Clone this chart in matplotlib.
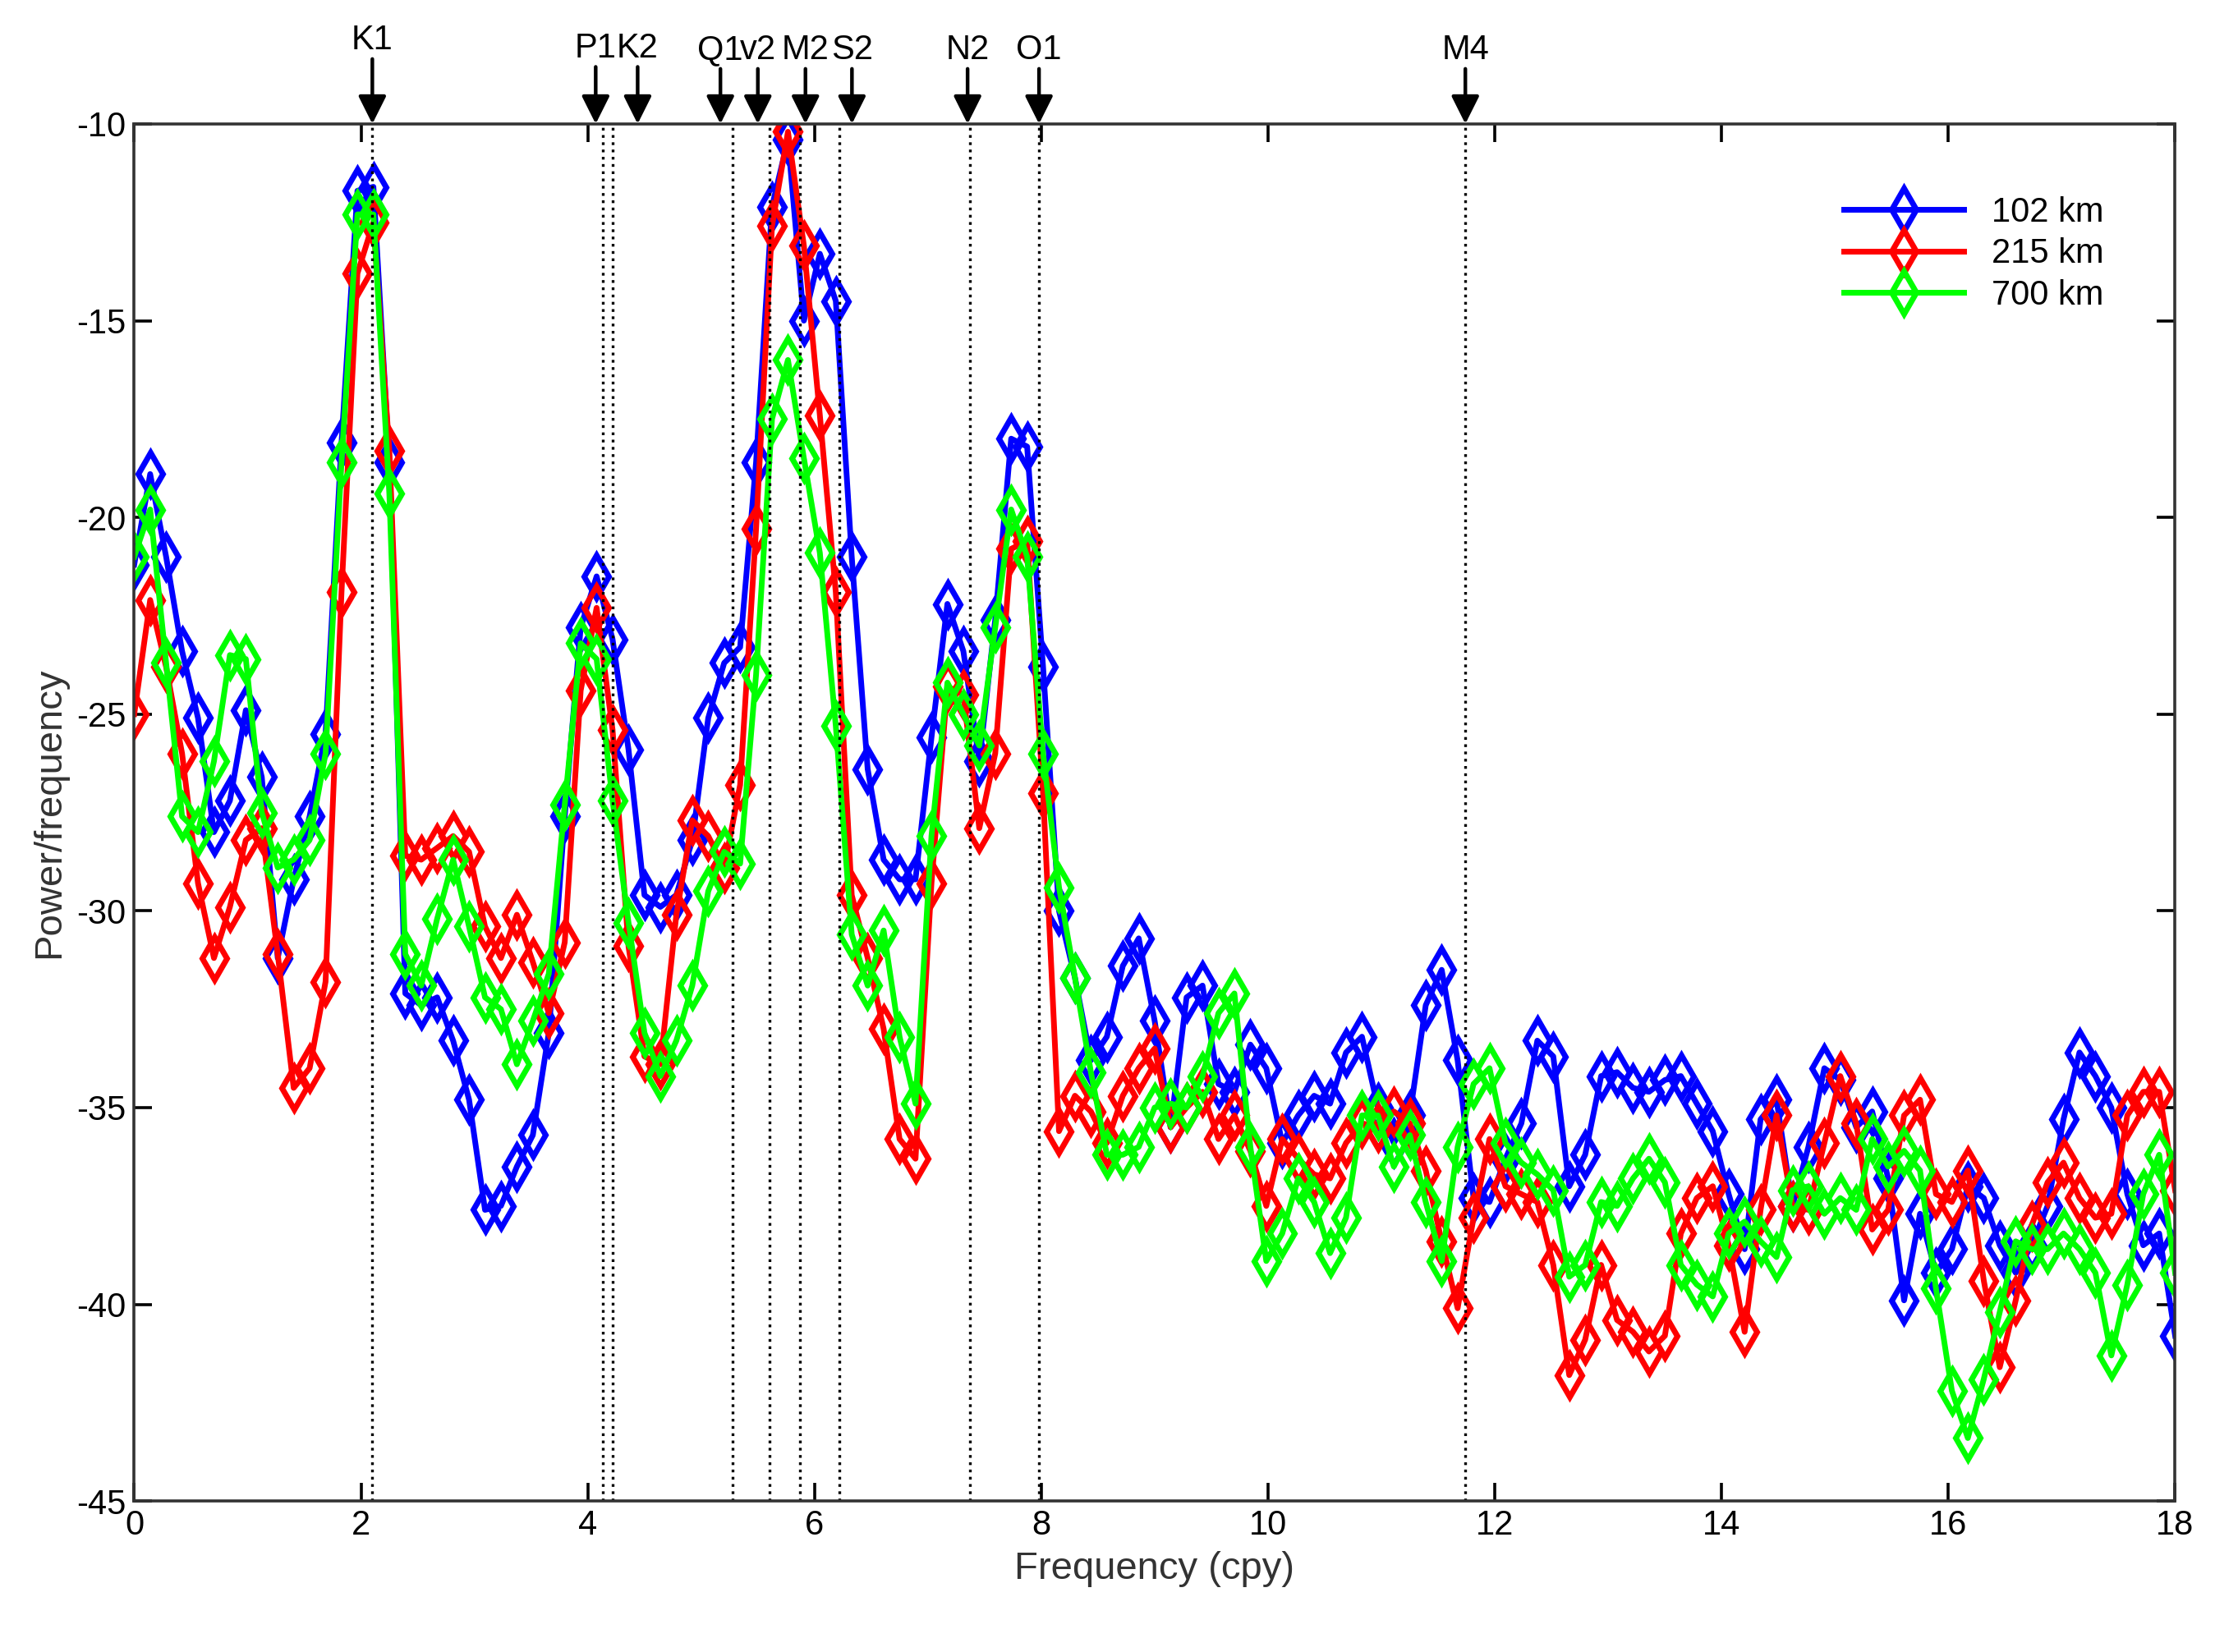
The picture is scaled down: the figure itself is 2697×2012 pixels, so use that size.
import numpy as np
import matplotlib.pyplot as plt

plt.rcParams['font.family'] = ['Liberation Sans', 'DejaVu Sans']
plt.rcParams['axes.unicode_minus'] = False

# power spectra (dB) at three distances, sampled every 18/128 cpy
p102 = [-21.2, -18.9, -21, -23.4, -25.1, -28, -27.2, -24.9, -26.6, -31.2,
        -29.2, -27.6, -25.5, -18.1, -11.7, -11.6, -18.6, -32.1, -32.4, -32.2,
        -33.3, -34.8, -37.6, -37.5, -36.5, -35.7, -33.1, -27.6, -22.8, -21.5,
        -23.1, -25.9, -29.6, -29.9, -29.6, -28.2, -25.1, -23.7, -23.3, -18.6,
        -12.1, -10.4, -15, -13.3, -14.5, -21, -26.4, -28.7, -29.2, -29.2,
        -25.6, -22.2, -23.4, -26.2, -22.6, -18, -18.2, -23.8, -30, -31.7,
        -33.8, -33.2, -31.4, -30.7, -32.8, -35.5, -32.2, -31.9, -34.4, -34.6,
        -33.4, -34, -35.9, -35.2, -34.7, -34.9, -33.6, -33.2, -35, -35.9,
        -35.2, -32.4, -31.5, -33.8, -37.3, -37.4, -36.3, -35.4, -33.3, -33.7,
        -37, -36.2, -34.2, -34.1, -34.5, -34.6, -34.3, -34.2, -34.9, -35.6,
        -37.2, -38.6, -35.3, -34.8, -37.5, -36, -34, -34.3, -35.5, -35.1,
        -36.8, -39.9, -37.7, -39.2, -38.6, -37, -37.3, -38.5, -39.2, -38.5,
        -37.5, -35.3, -33.6, -34.2, -35, -37.2, -38.5, -38.2, -40.8]
p215 = [-25, -22.1, -23.8, -26, -29.3, -31.2, -29.9, -28.2, -27.9, -31.1,
        -34.5, -34, -31.8, -21.9, -13.8, -12.5, -18.3, -28.6, -28.7, -28.4,
        -28.1, -28.5, -30.4, -31.2, -30.1, -31.3, -32.6, -30.8, -24.4, -22.3,
        -25.4, -30.9, -33.7, -33.9, -30.1, -27.7, -28.1, -28.9, -26.8, -20.3,
        -12.6, -10.2, -13.1, -17.4, -21.9, -29.6, -31.2, -33, -35.8, -36.3,
        -29.3, -24.3, -24.5, -27.9, -26, -20.8, -20.6, -27, -35.6, -34.7,
        -35.1, -35.9, -34.7, -34, -33.5, -35.5, -35, -34.6, -35.8, -35.2,
        -36.1, -37.5, -35.8, -36.3, -36.7, -36.8, -35.9, -35.4, -35.5, -35.1,
        -35.4, -36.6, -38.4, -40.1, -37.8, -35.8, -37, -37.2, -37.4, -39,
        -41.8, -40.9, -39, -40.4, -40.7, -41.2, -40.8, -38.2, -37.3, -37,
        -38.5, -40.7, -37.6, -35.2, -37.5, -37.6, -35.9, -34.2, -35.4, -38.1,
        -37.6, -35.2, -34.8, -37.2, -37.4, -36.6, -39.4, -41.6, -39.9, -38,
        -36.9, -36.4, -37.3, -37.8, -37.7, -35.2, -34.6, -34.6, -37.1]
p700 = [-21, -19.8, -23.7, -27.6, -28, -26.2, -23.5, -23.6, -27.5,
        -28.9, -28.7, -28.2, -26, -18.6, -12.3, -12.3, -19.4, -31.1, -31.9,
        -30.2, -28.7, -30.4, -32.2, -32.5, -33.9, -32.8, -31.6, -27.3, -23.2,
        -23.6, -27.2, -30.3, -33.1, -34.2, -33.3, -31.9, -29.5, -28.5, -28.8,
        -24, -17.5, -16, -18.5, -20.9, -25.3, -30.6, -31.9, -30.5, -33.2,
        -34.9, -28.1, -24.2, -25, -25.8, -22.8, -19.8, -21, -26, -29.4,
        -31.7, -34.1, -36.2, -36.2, -36, -35, -34.9, -35, -34.2, -32.6,
        -32.1, -36, -38.9, -38.2, -36.8, -37.4, -38.7, -37.8, -35.2, -35.2,
        -36.5, -35.7, -37.4, -38.9, -36, -34.4, -34, -35.9, -36.4, -36.7,
        -37.1, -39.3, -39, -37.4, -37.5, -36.8, -36.3, -36.9, -39, -39.5,
        -39.8, -38.2, -37.9, -38.4, -38.8, -37.1, -37, -37.7, -37.3, -37.6, -35.8,
        -36.5, -36.1, -36.6, -39.6, -42.2, -43.4, -41.9, -40.2, -38.4, -38.6,
        -38.6, -38.2, -38.6, -39.2, -41.3, -39.5, -37.2, -36.2, -39.2]

tide_names = ['K1', 'P1', 'K2', 'Q1', 'v2', 'M2', 'S2', 'N2', 'O1', 'M4']
tide_freq = [2.1, 4.13, 4.22, 5.28, 5.6, 5.87, 6.22, 7.37, 7.98, 11.74]
arrow_x = [2.1, 4.07, 4.44, 5.17, 5.5, 5.92, 6.33, 7.35, 7.98, 11.74]
label_y = [-8.3, -8.5, -8.5, -8.55, -8.55, -8.55, -8.55, -8.55, -8.55, -8.55]

fig = plt.figure(figsize=(13.485, 10.06), dpi=200)
ax = fig.add_axes([0.0606, 0.0914, 0.9214, 0.8336])

for vals, col, lab in [(p102, 'b', '102 km'), (p215, 'r', '215 km'), (p700, '#00ff00', '700 km')]:
    f = np.arange(len(vals)) * 18 / 128
    ax.plot(f, vals, '-d', color=col, lw=2.5, ms=13, mfc='none', mew=2.5, label=lab)

for x in tide_freq:
    ax.axvline(x, color='k', ls=':', lw=1.2)

for name, xa, ly in zip(tide_names, arrow_x, label_y):
    ax.annotate('', xy=(xa, -10), xytext=(xa, ly - 0.05), annotation_clip=False,
                arrowprops=dict(arrowstyle='-|>', color='k', lw=1.6, mutation_scale=26,
                                shrinkA=0, shrinkB=0))
    ax.text(xa, ly, name, ha='center', va='bottom', fontsize=15, clip_on=False)

ax.set_xlim(0, 18)
ax.set_ylim(-45, -10)
ax.set_xticks(range(0, 19, 2))
ax.set_yticks(range(-45, -9, 5))
for s in ax.spines.values():
    s.set_linewidth(1.3)
    s.set_color('#333333')
ax.tick_params(labelsize=15, direction='in', top=True, right=True, length=8, width=1.3)
ax.set_xlabel('Frequency (cpy)', fontsize=17, color='#333333')
ax.set_ylabel('Power/frequency', fontsize=17, color='#333333')
ax.legend(loc='upper right', fontsize=15, frameon=False, handlelength=3.5,
          bbox_to_anchor=(0.98, 0.97), labelspacing=0.25)

fig.savefig('out.png', dpi=200)
